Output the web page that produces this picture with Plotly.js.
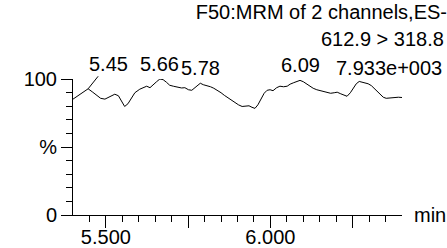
<!DOCTYPE html>
<html>
<head>
<meta charset="utf-8">
<script src="https://cdn.plot.ly/plotly-3.0.1.min.js"></script>
<style>
  html, body { margin: 0; padding: 0; background: #fff; }
  #chart { width: 447px; height: 248px; }
</style>
</head>
<body>
<div id="chart"></div>
<script>
// Retention time (min) and relative intensity (%)
const timeMin = [
  5.400, 5.414, 5.430, 5.446, 5.460, 5.472, 5.484, 5.497, 5.512, 5.527,
  5.538, 5.548, 5.557, 5.567, 5.576, 5.588, 5.603, 5.612, 5.624, 5.634,
  5.643, 5.654, 5.664, 5.674, 5.684, 5.694, 5.705, 5.716, 5.730, 5.740,
  5.751, 5.761, 5.771, 5.780, 5.787, 5.796, 5.807, 5.818, 5.828, 5.839,
  5.850, 5.860, 5.871, 5.882, 5.892, 5.903, 5.914, 5.924, 5.935, 5.944,
  5.953, 5.962, 5.972, 5.981, 5.990, 5.999, 6.008, 6.019, 6.029, 6.040,
  6.051, 6.060, 6.071, 6.081, 6.090, 6.100, 6.109, 6.119, 6.130, 6.141,
  6.151, 6.162, 6.173, 6.183, 6.194, 6.203, 6.214, 6.224, 6.233, 6.243,
  6.252, 6.261, 6.270, 6.279, 6.288, 6.297, 6.307, 6.316, 6.325, 6.334,
  6.343, 6.352, 6.361, 6.370, 6.379, 6.389, 6.400
];
const intensityPct = [
  85.2, 87.7, 90.6, 92.8, 90.3, 87.7, 85.8, 85.2, 86.9, 88.8,
  87.7, 83.2, 79.8, 81.8, 85.5, 89.9, 92.5, 93.2, 94.7, 93.6,
  95.8, 98.0, 100.0, 99.5, 97.6, 95.4, 94.7, 93.9, 93.4, 93.6,
  92.1, 91.7, 93.6, 95.8, 96.9, 95.8, 95.1, 94.3, 93.2, 91.7,
  89.9, 88.0, 86.2, 84.3, 82.9, 81.0, 79.8, 79.9, 80.3, 79.2,
  78.4, 81.0, 85.5, 89.5, 91.7, 92.1, 91.4, 93.6, 94.7, 94.3,
  94.7, 96.2, 97.3, 98.4, 99.0, 98.0, 96.5, 94.7, 93.2, 92.1,
  91.4, 90.6, 89.9, 89.5, 89.9, 90.3, 89.1, 88.0, 87.3, 89.9,
  93.6, 96.5, 98.2, 97.6, 97.3, 96.5, 95.1, 92.8, 90.6, 88.4,
  86.6, 85.8, 86.0, 86.3, 86.2, 86.6, 86.4
];

// Labelled peaks
const peakTimes = [5.446, 5.664, 5.787, 6.090];
const peakValues = [92.8, 100.0, 96.9, 99.0];
const peakLabels = ["5.45", "5.66", "5.78", "6.09"];

// Axis ticks
const xMajorTicks = [5.5, 5.75, 6.0, 6.25];
const xMajorLabels = ["5.500", "", "6.000", ""];
const xMinorTicks = [5.45, 5.55, 5.60, 5.65, 5.70, 5.80, 5.85, 5.90, 5.95, 6.05, 6.10, 6.15, 6.20, 6.30, 6.35];
const yMajorTicks = [0, 50, 100];
const yMajorLabels = ["0", "%", "100"];
const yMinorTicks = [10, 20, 30, 40, 60, 70, 80, 90];

const titleLines = ["F50:MRM of 2 channels,ES-", "612.9 > 318.8", "7.933e+003"];
const xUnit = "min";

const FONT = "Liberation Sans, Arial, Helvetica, sans-serif";
const TXT = { family: FONT, size: 20, color: "#000" };

const trace = {
  x: timeMin,
  y: intensityPct,
  type: "scatter",
  mode: "lines",
  line: { color: "#000", width: 1 },
  hoverinfo: "x+y",
  showlegend: false
};

const annotations = peakTimes.map((t, i) => {
  if (i === 0) {
    return {
      x: t, y: peakValues[i], xref: "x", yref: "y",
      text: peakLabels[i], showarrow: true, arrowhead: 0, arrowwidth: 1,
      arrowcolor: "#000", ax: 20, ay: -25, standoff: 0,
      font: TXT
    };
  }
  return {
    x: t, y: peakValues[i], xref: "x", yref: "y",
    text: peakLabels[i], showarrow: false,
    xanchor: "center", yanchor: "bottom", yshift: 2,
    font: TXT
  };
});
// second and third header lines
annotations.push({
  x: 1, y: 1.294, xref: "paper", yref: "paper",
  text: titleLines[1], showarrow: false, xanchor: "right", yanchor: "middle",
  xshift: 44, font: TXT
});
annotations.push({
  x: 1, y: 1.081, xref: "paper", yref: "paper",
  text: titleLines[2], showarrow: false, xanchor: "right", yanchor: "middle",
  xshift: 42, font: TXT
});
annotations.push({
  x: 1, y: 0, xref: "paper", yref: "y",
  text: xUnit, showarrow: false, xanchor: "left", yanchor: "middle",
  xshift: 10, font: TXT
});

const layout = {
  width: 447,
  height: 248,
  margin: { l: 73, r: 45, t: 79, b: 33, pad: 0 },
  paper_bgcolor: "#fff",
  plot_bgcolor: "#fff",
  font: TXT,
  title: {
    text: titleLines[0],
    font: TXT,
    xref: "container", x: 1, xanchor: "right",
    yref: "container", y: 1 - 12 / 248, yanchor: "middle",
    pad: { t: 0, b: 0, l: 0, r: 0 }
  },
  xaxis: {
    range: [5.4, 6.4],
    showline: true, linecolor: "#000", linewidth: 1,
    showgrid: false, zeroline: false,
    tickmode: "array", tickvals: xMajorTicks, ticktext: xMajorLabels,
    ticks: "outside", ticklen: 12, tickwidth: 1, tickcolor: "#000",
    ticklabelstandoff: -8,
    tickfont: TXT,
    minor: { tickmode: "array", tickvals: xMinorTicks, ticks: "outside", ticklen: 6, tickwidth: 1, tickcolor: "#000", showgrid: false },
    fixedrange: true
  },
  yaxis: {
    range: [0, 100],
    showline: true, linecolor: "#000", linewidth: 1,
    showgrid: false, zeroline: false,
    tickmode: "array", tickvals: yMajorTicks, ticktext: yMajorLabels,
    ticks: "outside", ticklen: 11, tickwidth: 1, tickcolor: "#000",
    ticklabelstandoff: 0,
    tickfont: TXT,
    minor: { tickmode: "array", tickvals: yMinorTicks, ticks: "outside", ticklen: 6.5, tickwidth: 1, tickcolor: "#000", showgrid: false },
    fixedrange: true
  },
  annotations: annotations
};

Plotly.newPlot("chart", [trace], layout, { displayModeBar: false, staticPlot: true });
</script>
</body>
</html>
